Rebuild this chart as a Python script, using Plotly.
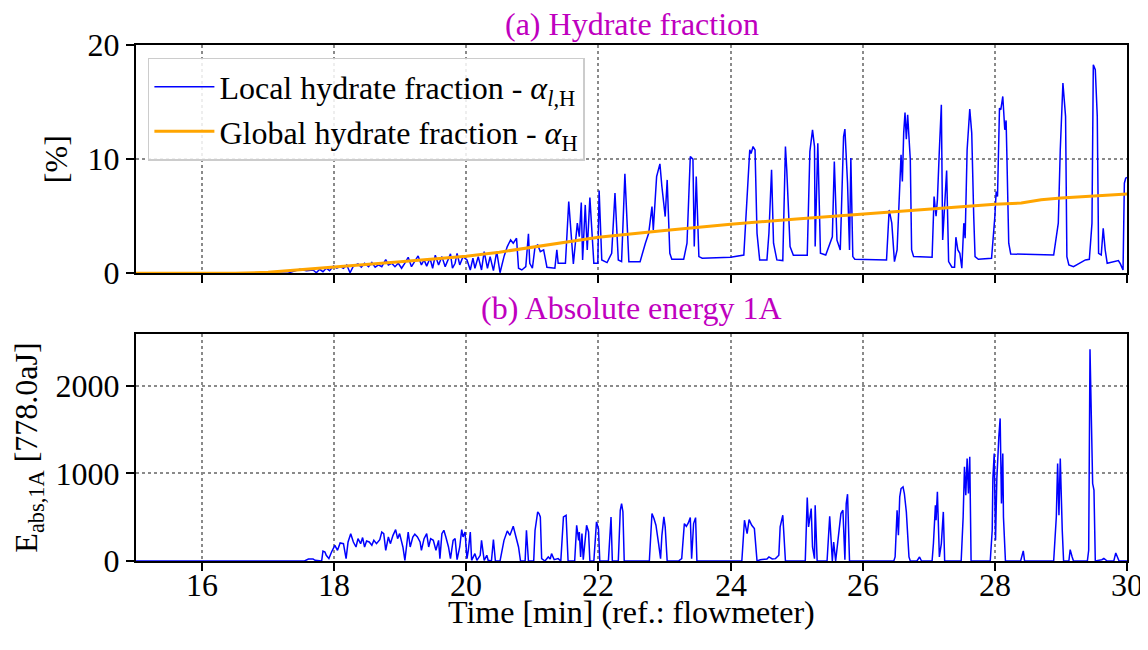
import plotly.graph_objects as go

# ---------------- data ----------------
t_local = [15.0, 17.3, 17.35, 17.48, 17.58, 17.68, 17.73, 17.78, 17.83, 17.88, 17.93, 17.99, 18.04, 18.09,
           18.14, 18.19, 18.24, 18.29, 18.36, 18.41, 18.46, 18.52, 18.57, 18.62, 18.67, 18.72, 18.78,
           18.82, 18.87, 18.92, 18.97, 19.02, 19.07, 19.12, 19.17, 19.22, 19.27, 19.32, 19.36, 19.40,
           19.45, 19.49, 19.53, 19.58, 19.63, 19.68, 19.73, 19.76, 19.79, 19.83, 19.86, 19.90, 19.95,
           20.01, 20.06, 20.10, 20.13, 20.18, 20.23, 20.27, 20.32, 20.36, 20.41, 20.46, 20.51, 20.57,
           20.62, 20.67, 20.71, 20.76, 20.79, 20.84, 20.90, 20.94, 20.96, 21.00, 21.04, 21.08, 21.12,
           21.17, 21.22, 21.34, 21.37, 21.39, 21.50, 21.55, 21.62, 21.68, 21.71, 21.74, 21.76, 21.80,
           21.83, 21.87, 21.93, 21.99, 22.01, 22.05, 22.13, 22.20, 22.25, 22.30, 22.35, 22.40, 22.46,
           22.63, 22.71, 22.76, 22.81, 22.83, 22.88, 22.93, 22.96, 23.01, 23.04, 23.08, 23.11, 23.29,
           23.34, 23.39, 23.43, 23.45, 23.48, 23.52, 23.57, 24.00, 24.20, 24.25, 24.29, 24.31, 24.34,
           24.37, 24.40, 24.44, 24.55, 24.58, 24.62, 24.65, 24.70, 24.79, 24.83, 24.85, 24.90, 24.95,
           25.16, 25.20, 25.24, 25.27, 25.28, 25.32, 25.36, 25.44, 25.54, 25.57, 25.61, 25.66, 25.71,
           25.73, 25.77, 25.80, 25.82, 25.85, 25.88, 26.36, 26.40, 26.44, 26.48, 26.52, 26.56, 26.58,
           26.60, 26.62, 26.64, 26.66, 26.68, 26.72, 26.74, 26.77, 27.05, 27.08, 27.11, 27.13, 27.16,
           27.19, 27.21, 27.25, 27.27, 27.30, 27.35, 27.39, 27.41, 27.44, 27.47, 27.50, 27.53, 27.55,
           27.58, 27.62, 27.65, 27.68, 27.70, 27.75, 27.95, 28.00, 28.02, 28.04, 28.07, 28.09, 28.12,
           28.15, 28.17, 28.18, 28.21, 28.24, 28.89, 28.96, 28.99, 29.03, 29.07, 29.09, 29.12, 29.19,
           29.37, 29.43, 29.47, 29.49, 29.52, 29.55, 29.57, 29.61, 29.64, 29.67, 29.70, 29.87, 29.90,
           29.94, 29.96, 29.98, 30.0]
v_local = [0, 0, 0.1, 0.35, 0.23, 0.29, 0.05, 0.35, 0.14, 0.44, 0.23, 0.63, 0.44, 0.58,
           0.44, 0.73, 0.05, 0.63, 0.82, 0.53, 0.88, 0.58, 0.94, 0.53, 0.73, 0.58, 1.2,
           0.73, 0.88, 0.58, 0.88, 0.44, 0.88, 1.4, 0.58, 1.02, 1.52, 0.73, 1.17, 0.63,
           1.32, 0.44, 1.58, 0.73, 1.46, 0.58, 1.32, 1.7, 0.44, 0.88, 1.75, 0.73, 1.46,
           1.17, 0.29, 1.32, 0.44, 1.46, 0.29, 1.9, 0.44, 1.46, 0.23, 1.9, 0.05, 1.46,
           2.34, 2.92, 2.63, 3.07, 0.44, 0.29, 0.58, 3.45, 0.88, 0.44, 2.34, 2.49, 1.9,
           2.05, 0.53, 0.44, 2.05, 0.88, 0.88, 6.28, 0.82, 4.39, 3.21, 6.19, 1.17, 5.99,
           2.04, 6.63, 0.88, 0.88, 7.25, 1.17, 0.94, 1.75, 7.02, 1.17, 1.02, 8.71, 1.02,
           1.02, 2.63, 3.51, 5.84, 3.8, 8.47, 9.59, 7.6, 4.97, 8.18, 1.75, 1.23, 1.23,
           2.63, 10.23, 10.0, 2.34, 8.47, 1.46, 1.32, 1.4, 1.6, 6.43, 10.82, 10.5, 11.1,
           10.8, 3.5, 1.17, 1.17, 3.51, 9.06, 2.63, 1.17, 1.11, 11.1, 9.06, 2.34, 1.58,
           1.58, 10.67, 12.57, 11.1, 2.34, 11.4, 1.75, 1.6, 3.2, 9.79, 2.9, 2.04, 11.98,
           12.63, 7.89, 2.04, 10.09, 1.46, 1.23, 1.17, 5.55, 4.39, 1.02, 2.04, 7.89, 10.38,
           8.04, 12.28, 14.09, 11.75, 13.89, 9.94, 2.04, 1.46, 1.4, 6.72, 5.0, 6.43, 10.82,
           14.76, 2.92, 6.43, 9.0, 1.02, 0.53, 0.53, 3.16, 2.04, 1.75, 0.44, 4.39, 3.07,
           10.82, 14.39, 12.28, 5.0, 1.46, 1.23, 1.32, 5.0, 7.16, 6.72, 14.47, 14.33, 15.49,
           12.57, 13.39, 10.82, 2.63, 1.69, 1.6, 4.39, 10.82, 16.67, 13.75, 1.46, 0.73, 0.58,
           1.17, 1.23, 4.39, 18.27, 17.84, 13.75, 1.75, 1.6, 3.94, 2.04, 0.88, 1.11, 0.82,
           0.29, 7.89, 8.33, 8.4]

t_global = [15.0, 16.5, 17.0, 17.5, 18.0, 18.5, 19.0, 19.5, 20.0, 20.5, 21.0, 21.5, 22.0, 23.0,
            24.0, 25.0, 26.0, 27.0, 28.0, 28.4, 28.7, 29.0, 30.0]
v_global = [0, 0, 0.08, 0.3, 0.58, 0.8, 1.0, 1.25, 1.5, 1.85, 2.3, 2.75, 3.15, 3.75,
            4.3, 4.75, 5.2, 5.6, 6.05, 6.15, 6.45, 6.6, 6.95]

t_energy = [15.0, 17.55, 17.61, 17.68, 17.71, 17.81, 17.83, 17.86, 17.88, 17.92, 17.96, 17.99, 18.01,
            18.05, 18.09, 18.14, 18.18, 18.21, 18.25, 18.29, 18.33, 18.36, 18.40, 18.43, 18.46, 18.49,
            18.53, 18.57, 18.60, 18.64, 18.69, 18.72, 18.75, 18.78, 18.82, 18.85, 18.89, 18.93, 18.96,
            18.99, 19.04, 19.07, 19.10, 19.12, 19.15, 19.19, 19.22, 19.26, 19.30, 19.32, 19.36, 19.40,
            19.43, 19.46, 19.50, 19.54, 19.58, 19.60, 19.63, 19.66, 19.69, 19.73, 19.76, 19.80, 19.83,
            19.86, 19.90, 19.93, 19.95, 19.98, 20.01, 20.03, 20.06, 20.08, 20.13, 20.16, 20.21, 20.23,
            20.27, 20.31, 20.33, 20.38, 20.41, 20.44, 20.51, 20.57, 20.62, 20.66, 20.71, 20.75, 20.79,
            20.82, 20.89, 20.91, 20.94, 21.02, 21.04, 21.08, 21.10, 21.12, 21.14, 21.19, 21.24, 21.27,
            21.29, 21.33, 21.39, 21.43, 21.47, 21.51, 21.54, 21.64, 21.67, 21.70, 21.71, 21.73, 21.75,
            21.77, 21.80, 21.82, 21.85, 21.87, 21.93, 21.97, 22.00, 22.02, 22.15, 22.19, 22.21, 22.30,
            22.33, 22.35, 22.37, 22.39, 22.77, 22.81, 22.84, 22.87, 22.91, 22.94, 22.96, 22.99, 23.01,
            23.04, 23.21, 23.26, 23.30, 23.33, 23.36, 23.39, 23.41, 23.44, 23.47, 23.49, 24.17, 24.21,
            24.25, 24.28, 24.32, 24.36, 24.40, 24.45, 24.55, 24.58, 24.63, 24.68, 24.73, 24.75, 24.79,
            24.83, 25.13, 25.16, 25.18, 25.22, 25.24, 25.27, 25.28, 25.31, 25.46, 25.50, 25.54, 25.56,
            25.59, 25.65, 25.67, 25.70, 25.73, 25.75, 25.77, 25.80, 26.47, 26.49, 26.52, 26.54, 26.56,
            26.58, 26.61, 26.63, 26.66, 26.70, 26.72, 26.82, 26.86, 26.89, 27.05, 27.07, 27.10, 27.11,
            27.13, 27.16, 27.19, 27.22, 27.24, 27.49, 27.52, 27.54, 27.56, 27.58, 27.60, 27.62, 27.64,
            27.93, 27.96, 27.97, 27.99, 28.01, 28.03, 28.06, 28.08, 28.10, 28.12, 28.13, 28.16, 28.39,
            28.43, 28.45, 28.89, 28.93, 28.95, 28.97, 28.99, 29.02, 29.04, 29.12, 29.14, 29.17, 29.19,
            29.40, 29.42, 29.44, 29.46, 29.48, 29.50, 29.52, 29.62, 29.65, 29.70, 29.80, 29.83, 29.85,
            29.88, 30.0]
v_energy = [0, 0, 23, 23, 8, 0, 114, 103, 65, 27, 103, 160, 179,
            122, 206, 198, 27, 217, 312, 217, 160, 255, 198, 267, 160, 229,
            217, 179, 236, 198, 244, 331, 312, 122, 274, 198, 293, 358, 255,
            312, 160, 8, 198, 331, 160, 274, 305, 274, 217, 122, 255, 312,
            160, 255, 236, 122, 236, 27, 312, 350, 274, 160, 27, 236, 255,
            15, 160, 358, 274, 331, 27, 122, 331, 8, 84, 8, 65, 236,
            8, 65, 8, 0, 244, 0, 0, 236, 343, 293, 396, 293, 160,
            0, 0, 350, 0, 0, 350, 560, 541, 503, 27, 0, 46, 23,
            84, 15, 27, 0, 503, 522, 0, 0, 408, 236, 331, 46, 312,
            15, 312, 408, 331, 0, 0, 446, 370, 0, 0, 503, 0, 0,
            579, 655, 560, 0, 0, 541, 484, 408, 198, 27, 293, 503, 389,
            0, 0, 27, 427, 396, 434, 495, 27, 427, 495, 0, 0, 465,
            312, 472, 408, 370, 0, 15, 23, 46, 23, 27, 65, 389, 522,
            0, 0, 724, 389, 598, 160, 27, 636, 0, 0, 511, 0, 217,
            0, 427, 541, 579, 15, 655, 762, 0, 0, 46, 580, 294, 732,
            827, 846, 770, 560, 46, 0, 0, 46, 0, 0, 199, 637, 465,
            789, 46, 199, 560, 0, 0, 503, 1075, 751, 1170, 770, 1189, 0,
            0, 351, 942, 1227, 237, 942, 1418, 1627, 656, 1227, 503, 0, 0,
            115, 0, 0, 503, 1113, 522, 1170, 351, 0, 0, 130, 46, 0,
            0, 122, 2416, 1494, 884, 808, 0, 15, 30, 0, 0, 92, 46,
            0, 0]

x_ticks = [16, 18, 20, 22, 24, 26, 28, 30]
y1_ticks = [0, 10, 20]
y2_ticks = [0, 1000, 2000]

# ---------------- figure ----------------
FONT = "Liberation Serif"
FS = 32
MAG = "#BF00BF"

fig = go.Figure()
fig.add_trace(go.Scatter(x=t_local, y=v_local, mode="lines",
                         line=dict(color="#0000FF", width=1.5),
                         name="Local hydrate fraction - <i>α</i><sub><i>l</i>,H</sub>",
                         xaxis="x", yaxis="y"))
fig.add_trace(go.Scatter(x=t_global, y=v_global, mode="lines",
                         line=dict(color="#FFA500", width=3),
                         name="Global hydrate fraction - <i>α</i><sub>H</sub>",
                         xaxis="x", yaxis="y"))
fig.add_trace(go.Scatter(x=t_energy, y=v_energy, mode="lines",
                         line=dict(color="#0000FF", width=1.5),
                         showlegend=False, xaxis="x2", yaxis="y2"))

axis_common = dict(showline=True, linecolor="black", linewidth=2, mirror=True,
                   ticks="outside", ticklen=8, tickwidth=2, tickcolor="black",
                   showgrid=True, gridcolor="#8a8a8a", griddash="dot", gridwidth=1.6,
                   zeroline=False, tickfont=dict(family=FONT, size=FS, color="black"))

# x tick labels of the lower axis, placed at the tick values of the shared time axis
tick_label_annotations = [
    dict(text=str(v), x=v, xref="x2", y=-0.046, yref="paper",
         xanchor="center", yanchor="middle", showarrow=False,
         font=dict(family=FONT, size=FS, color="black"))
    for v in x_ticks
]

# page body has an 8px default margin, so the figure is 8px smaller than the window
fig.update_layout(
    width=1140, height=642,
    margin=dict(l=128, r=21, t=37, b=89),
    paper_bgcolor="white", plot_bgcolor="white",
    font=dict(family=FONT, size=FS, color="black"),
    xaxis=dict(range=[15, 30], tickvals=x_ticks, showticklabels=False,
               domain=[0, 1], anchor="y", matches="x2", **axis_common),
    yaxis=dict(range=[0, 20], tickvals=y1_ticks, domain=[0.5576, 1], anchor="x",
               title=dict(text="[%]", standoff=10, font=dict(family=FONT, size=FS)),
               **axis_common),
    xaxis2=dict(range=[15, 30], tickvals=x_ticks, domain=[0, 1], anchor="y2",
                showticklabels=False, **axis_common),
    yaxis2=dict(range=[0, 2590], tickvals=y2_ticks, domain=[0, 0.4399], anchor="x2",
                title=dict(text="E<sub>abs,1A</sub> [778.0aJ]", standoff=8,
                           font=dict(family=FONT, size=FS)),
                **axis_common),
    legend=dict(x=0.012, y=0.975, xanchor="left", yanchor="top",
                bgcolor="rgba(255,255,255,0.85)", bordercolor="#cccccc", borderwidth=1.5,
                font=dict(family=FONT, size=FS, color="black"),
                itemwidth=60, tracegroupgap=0),
    showlegend=True,
    annotations=[
        dict(text="(a) Hydrate fraction", x=0.5, y=1.041, xref="paper", yref="paper",
             xanchor="center", yanchor="middle", showarrow=False,
             font=dict(family=FONT, size=FS, color=MAG)),
        dict(text="(b) Absolute energy 1A", x=0.5, y=0.4903, xref="paper", yref="paper",
             xanchor="center", yanchor="middle", showarrow=False,
             font=dict(family=FONT, size=FS, color=MAG)),
        dict(text="Time [min] (ref.: flowmeter)", x=0.5, y=-0.0985, xref="paper", yref="paper",
             xanchor="center", yanchor="middle", showarrow=False,
             font=dict(family=FONT, size=FS, color="black")),
    ] + tick_label_annotations,
)

fig.write_html("out.html")
